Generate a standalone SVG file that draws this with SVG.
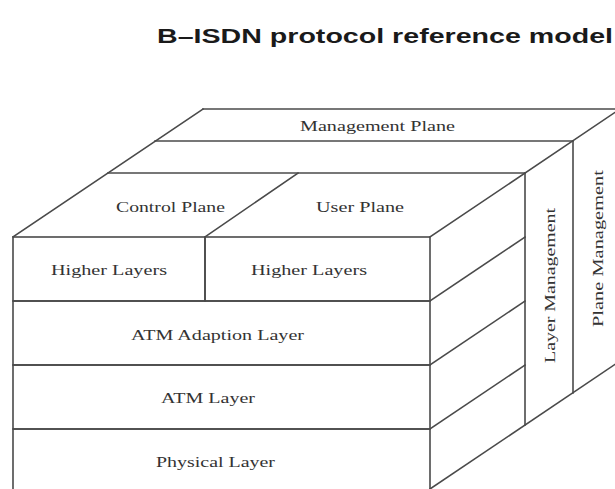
<svg xmlns="http://www.w3.org/2000/svg" width="615" height="489" viewBox="0 0 615 489">
<style>
.ln{stroke:#4a4a4a;stroke-width:1.6;fill:none;stroke-linecap:square}
.face{fill:#ffffff;stroke:none}
.lbl{font-family:"Liberation Serif","Times New Roman",serif;font-size:15px;fill:#333333}
.title{font-family:"Liberation Sans",Arial,sans-serif;font-size:21px;font-weight:bold;fill:#1a1a1a}
</style>
<rect width="615" height="489" fill="#ffffff"/>
<text class="title" x="157" y="43" textLength="456" lengthAdjust="spacingAndGlyphs">B–ISDN protocol reference model</text>

<g id="connectors">
  <!-- outer left/top diagonals -->
  <line class="ln" x1="13" y1="237" x2="203" y2="109"/>
  <line class="ln" x1="430" y1="237" x2="620" y2="109"/>
  <!-- top horizontal edges -->
  <line class="ln" x1="203" y1="109" x2="620" y2="109"/>
  <line class="ln" x1="155" y1="141" x2="573" y2="141"/>
  <line class="ln" x1="108" y1="173" x2="525" y2="173"/>
  <!-- control / user divider -->
  <line class="ln" x1="298" y1="173" x2="205" y2="237"/>
  <!-- right side diagonals -->
  <line class="ln" x1="430" y1="301" x2="525" y2="237"/>
  <line class="ln" x1="430" y1="365" x2="525" y2="301"/>
  <line class="ln" x1="430" y1="429" x2="525" y2="365"/>
  <line class="ln" x1="430" y1="489" x2="620" y2="361"/>
  <!-- back verticals -->
  <line class="ln" x1="525" y1="173" x2="525" y2="425"/>
  <line class="ln" x1="573" y1="141" x2="573" y2="393"/>
</g>

<g id="management-plane">
  <text class="lbl" x="300" y="131" textLength="155" lengthAdjust="spacingAndGlyphs">Management Plane</text>
</g>
<g id="control-plane">
  <text class="lbl" x="116" y="212" textLength="109" lengthAdjust="spacingAndGlyphs">Control Plane</text>
</g>
<g id="user-plane">
  <text class="lbl" x="316" y="212" textLength="88" lengthAdjust="spacingAndGlyphs">User Plane</text>
</g>
<g id="higher-layers-control">
  <rect class="ln" x="13" y="237" width="192" height="64"/>
  <text class="lbl" x="51" y="275" textLength="116" lengthAdjust="spacingAndGlyphs">Higher Layers</text>
</g>
<g id="higher-layers-user">
  <rect class="ln" x="205" y="237" width="225" height="64"/>
  <text class="lbl" x="251" y="275" textLength="116" lengthAdjust="spacingAndGlyphs">Higher Layers</text>
</g>
<g id="atm-adaption-layer">
  <rect class="ln" x="13" y="301" width="417" height="64"/>
  <text class="lbl" x="131" y="340" textLength="173" lengthAdjust="spacingAndGlyphs">ATM Adaption Layer</text>
</g>
<g id="atm-layer">
  <rect class="ln" x="13" y="365" width="417" height="64"/>
  <text class="lbl" x="161" y="403" textLength="94" lengthAdjust="spacingAndGlyphs">ATM Layer</text>
</g>
<g id="physical-layer">
  <path class="ln" d="M13,492 L13,429 L430,429 L430,492"/>
  <text class="lbl" x="156" y="467" textLength="119" lengthAdjust="spacingAndGlyphs">Physical Layer</text>
</g>
<g id="layer-management">
  <text class="lbl" transform="translate(555,363) rotate(-90)" x="0" y="0" textLength="155" lengthAdjust="spacingAndGlyphs">Layer Management</text>
</g>
<g id="plane-management">
  <text class="lbl" transform="translate(603,327) rotate(-90)" x="0" y="0" textLength="157" lengthAdjust="spacingAndGlyphs">Plane Management</text>
</g>
</svg>
